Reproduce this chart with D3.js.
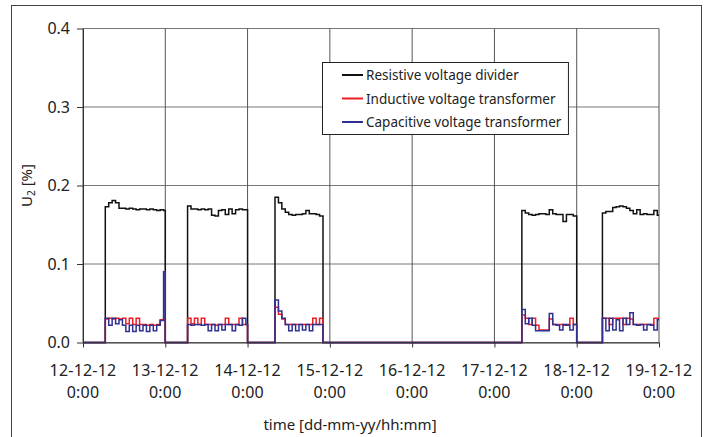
<!DOCTYPE html>
<html>
<head>
<meta charset="utf-8">
<script src="https://cdn.jsdelivr.net/npm/d3@7"></script>
<style>
    body { margin: 0; background: #fff; }
    text { font-family: 'Noto Sans', sans-serif; fill: #222; }
</style>
</head>
<body>
<script>
// hours since 12-12-12 0:00
const hours = [0,
    6.5, 7.5, 8.5, 9.5, 10.5, 11.5, 12.5, 13.5, 14.5, 15.5, 16.5, 17.5, 18.5, 19.5, 20.5, 21.5, 22.5, 23.5,
    24,
    30.5, 31.5, 32.5, 33.5, 34.5, 35.5, 36.5, 37.5, 38.5, 39.5, 40.5, 41.5, 42.5, 43.5, 44.5, 45.5, 46.5, 47.5,
    48,
    56, 57, 58, 59, 60, 61, 62, 63, 64, 65, 66, 67, 68, 69,
    70,
    128, 129, 130, 131, 132, 133, 134, 135, 136, 137, 138, 139, 140, 141, 142, 143,
    144,
    151.5, 152.5, 153.5, 154.5, 155.5, 156.5, 157.5, 158.5, 159.5, 160.5, 161.5, 162.5, 163.5, 164.5, 165.5, 166.5, 167.5,
    168];

const resistive = [0,
    0.173, 0.178, 0.181, 0.178, 0.171, 0.171, 0.170, 0.171, 0.170, 0.169, 0.170, 0.170, 0.169, 0.170, 0.169, 0.168, 0.169, 0.168,
    0,
    0.174, 0.170, 0.170, 0.169, 0.170, 0.169, 0.170, 0.162, 0.161, 0.168, 0.169, 0.163, 0.170, 0.164, 0.169, 0.170, 0.169, 0.169,
    0,
    0.185, 0.178, 0.170, 0.166, 0.163, 0.162, 0.163, 0.163, 0.164, 0.168, 0.164, 0.164, 0.163, 0.161,
    0,
    0.168, 0.165, 0.163, 0.162, 0.163, 0.164, 0.164, 0.163, 0.169, 0.164, 0.163, 0.163, 0.154, 0.163, 0.163, 0.161,
    0,
    0.165, 0.167, 0.167, 0.172, 0.173, 0.174, 0.173, 0.171, 0.168, 0.164, 0.169, 0.163, 0.164, 0.163, 0.163, 0.168, 0.162,
    0.162];

const inductive = [0,
    0.030, 0.031, 0.030, 0.031, 0.030, 0.031, 0.024, 0.031, 0.023, 0.031, 0.023, 0.023, 0.022, 0.023, 0.022, 0.023, 0.029, 0.030,
    0,
    0.031, 0.024, 0.031, 0.023, 0.031, 0.023, 0.023, 0.023, 0.022, 0.023, 0.023, 0.031, 0.023, 0.023, 0.023, 0.031, 0.023, 0.023,
    0,
    0.045, 0.036, 0.030, 0.023, 0.023, 0.023, 0.023, 0.023, 0.023, 0.023, 0.023, 0.031, 0.023, 0.031,
    0,
    0.035, 0.031, 0.023, 0.031, 0.022, 0.016, 0.016, 0.016, 0.030, 0.023, 0.023, 0.023, 0.022, 0.023, 0.031, 0.023,
    0,
    0.031, 0.031, 0.023, 0.031, 0.031, 0.031, 0.023, 0.031, 0.030, 0.023, 0.023, 0.023, 0.023, 0.023, 0.023, 0.031, 0.031,
    0.031];

const capacitive = [0,
    0.031, 0.022, 0.031, 0.024, 0.029, 0.022, 0.014, 0.022, 0.014, 0.022, 0.015, 0.022, 0.014, 0.022, 0.015, 0.022, 0.028, 0.090,
    0,
    0.023, 0.022, 0.023, 0.023, 0.022, 0.023, 0.015, 0.023, 0.015, 0.023, 0.016, 0.023, 0.023, 0.015, 0.023, 0.022, 0.031, 0.023,
    0,
    0.054, 0.040, 0.031, 0.023, 0.015, 0.023, 0.015, 0.023, 0.016, 0.023, 0.015, 0.023, 0.023, 0.023,
    0,
    0.042, 0.024, 0.031, 0.022, 0.015, 0.015, 0.015, 0.015, 0.037, 0.023, 0.022, 0.016, 0.023, 0.022, 0.016, 0.023,
    0,
    0.031, 0.015, 0.031, 0.016, 0.029, 0.015, 0.031, 0.023, 0.038, 0.023, 0.022, 0.023, 0.016, 0.023, 0.022, 0.016, 0.029,
    0.029];

const dateLabels = ['12-12-12', '13-12-12', '14-12-12', '15-12-12', '16-12-12', '17-12-12', '18-12-12', '19-12-12'];
const timeLabel = '0:00';
const yTicks = [0, 0.1, 0.2, 0.3, 0.4];

const seriesNames = ['Resistive voltage divider', 'Inductive voltage transformer', 'Capacitive voltage transformer'];
const seriesColors = ['#111111', '#ee1c25', '#2e3192'];

drawChart();

function drawChart()
{
    const width = 708;
    const height = 437;

    const marginLeft = 83;
    const marginRight = 49;
    const marginTop = 28.5;
    const marginBottom = 94.5;

    const svg = d3.select('body').append('svg')
        .attr('width', width)
        .attr('height', height);

    // outer frame
    svg.append('rect')
        .attr('x', 11.5)
        .attr('y', 5.5)
        .attr('width', 690)
        .attr('height', 440)
        .attr('fill', '#fff')
        .attr('stroke', '#444')
        .attr('stroke-width', 1);

    const x = d3.scaleLinear()
        .domain([0, 168])
        .range([marginLeft, width - marginRight]);

    const y = d3.scaleLinear()
        .domain([0, 0.4])
        .range([height - marginBottom, marginTop]);

    const tickHours = dateLabels.map((d, i) => i * 24);

    // horizontal gridlines
    svg.selectAll('line.h-grid')
        .data(yTicks)
        .enter()
        .append('line')
        .attr('class', 'h-grid')
        .attr('x1', x(0))
        .attr('x2', x(168))
        .attr('y1', d => y(d))
        .attr('y2', d => y(d))
        .attr('stroke', '#777')
        .attr('stroke-width', 1);

    // vertical gridlines
    svg.selectAll('line.v-grid')
        .data(tickHours)
        .enter()
        .append('line')
        .attr('class', 'v-grid')
        .attr('x1', d => x(d))
        .attr('x2', d => x(d))
        .attr('y1', y(0))
        .attr('y2', y(0.4))
        .attr('stroke', '#555')
        .attr('stroke-width', 1);

    // data lines
    const series = [resistive, inductive, capacitive];
    series.forEach((values, s) =>
    {
        const line = d3.line()
            .x((d, i) => x(hours[i]))
            .y(d => y(d))
            .curve(d3.curveStepAfter);

        svg.append('path')
            .datum(values)
            .attr('d', line)
            .attr('fill', 'none')
            .attr('stroke', seriesColors[s])
            .attr('stroke-width', 1.5);
    });

    // x-axis
    const xAxis = d3.axisBottom(x)
        .tickValues(tickHours)
        .tickSize(5)
        .tickSizeOuter(0)
        .tickFormat('');

    svg.append('g')
        .attr('transform', `translate(0, ${y(0)})`)
        .call(xAxis)
        .call(g => g.select('.domain').attr('stroke', '#333'))
        .call(g => g.selectAll('.tick line').attr('stroke', '#333'));

    const xLabels = svg.append('g')
        .attr('font-size', 16)
        .attr('letter-spacing', 0.2)
        .attr('text-anchor', 'middle');

    xLabels.selectAll('text')
        .data(tickHours)
        .enter()
        .append('text')
        .attr('x', d => x(d))
        .attr('y', y(0) + 33)
        .text((d, i) => dateLabels[i])
        .append('tspan')
        .attr('x', d => x(d))
        .attr('dy', 22)
        .text(timeLabel);

    // y-axis
    const yAxis = d3.axisLeft(y)
        .tickValues(yTicks)
        .tickSize(6)
        .tickSizeOuter(0)
        .tickFormat(d3.format('.1f'));

    svg.append('g')
        .attr('transform', `translate(${x(0)}, 0)`)
        .call(yAxis)
        .call(g => g.select('.domain').attr('stroke', '#333'))
        .call(g => g.selectAll('.tick line').attr('stroke', '#333'))
        .call(g => g.selectAll('.tick text')
            .attr('x', -13)
            .attr('font-size', 16)
            .attr('font-family', "'Noto Sans', sans-serif")
            .attr('fill', '#222'));

    // axis titles
    svg.append('text')
        .attr('x', 350)
        .attr('y', 430)
        .attr('text-anchor', 'middle')
        .attr('font-size', 15)
        .text('time [dd-mm-yy/hh:mm]');

    const yTitle = svg.append('text')
        .attr('transform', `translate(32, ${(y(0) + y(0.4)) / 2}) rotate(-90)`)
        .attr('text-anchor', 'middle')
        .attr('font-size', 15);
    yTitle.append('tspan').text('U');
    yTitle.append('tspan').attr('font-size', 10).attr('dy', 3).text('2');
    yTitle.append('tspan').attr('dy', -3).text(' [%]');

    // legend
    const legend = svg.append('g');
    const legendBox = legend.append('rect')
        .attr('x', 322.5)
        .attr('y', 62.5)
        .attr('height', 72)
        .attr('fill', '#fff')
        .attr('stroke', '#222')
        .attr('stroke-width', 1);

    let maxText = 0;
    seriesNames.forEach((name, i) =>
    {
        const cy = 75 + i * 23.5;
        legend.append('line')
            .attr('x1', 342)
            .attr('x2', 363)
            .attr('y1', cy)
            .attr('y2', cy)
            .attr('stroke', seriesColors[i])
            .attr('stroke-width', 2);
        const t = legend.append('text')
            .attr('x', 366)
            .attr('y', cy + 5)
            .attr('font-size', 13.5)
            .text(name);
        maxText = Math.max(maxText, t.node().getComputedTextLength());
    });
    legendBox.attr('width', 366 + maxText + 7 - 322.5);
}
</script>
</body>
</html>
